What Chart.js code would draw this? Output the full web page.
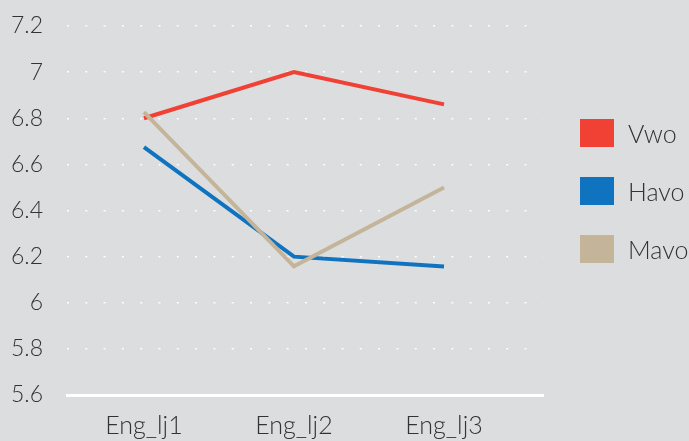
<!DOCTYPE html>
<html>
<head>
<meta charset="utf-8">
<script src="https://cdn.jsdelivr.net/npm/chart.js@4/dist/chart.umd.min.js"></script>
<style>
  html, body { margin: 0; padding: 0; background: #dcdddf; }
  #wrap { position: relative; width: 689px; height: 441px; }
  #legend { position: absolute; left: 580px; top: 119px; font-family: Lato, sans-serif; font-weight: 300; font-size: 25px; color: #333; }
  #legend .item { display: flex; align-items: center; height: 28px; margin-bottom: 30px; white-space: nowrap; }
  #legend .box { width: 34px; height: 28px; margin-right: 14px; flex: none; }
</style>
</head>
<body>
<div id="wrap">
  <canvas id="c" width="689" height="441"></canvas>
  <div id="legend"></div>
</div>
<script>
const categories = ['Eng_lj1', 'Eng_lj2', 'Eng_lj3'];
const seriesNames = ['Vwo', 'Havo', 'Mavo'];
const vwo = [6.80, 7.00, 6.86];
const havo = [6.675, 6.20, 6.157];
const mavo = [6.827, 6.158, 6.50];
const colors = ['#f04134', '#0f73c0', '#c4b59a'];
const yTicks = [5.6, 5.8, 6, 6.2, 6.4, 6.6, 6.8, 7, 7.2];

const series = [vwo, havo, mavo];
const yFont = { family: 'Lato, sans-serif', weight: '300', size: 23 };
const xFont = { family: 'Lato, sans-serif', weight: '300', size: 25 };

const chart = new Chart(document.getElementById('c'), {
  type: 'line',
  data: {
    datasets: series.map((vals, i) => ({
      label: seriesNames[i],
      data: vals.map((v, j) => ({ x: j + 1, y: v })),
      borderColor: colors[i],
      backgroundColor: colors[i],
      borderWidth: 4,
      pointRadius: 0,
      tension: 0,
      order: 3 - i
    }))
  },
  options: {
    responsive: false,
    animation: false,
    layout: { padding: { top: 26, right: 146, left: 0, bottom: 0 } },
    plugins: { legend: { display: false }, tooltip: { enabled: false } },
    scales: {
      x: {
        type: 'linear',
        min: 0.487,
        max: 3.66,
        afterBuildTicks: (s) => { s.ticks = categories.map((_, i) => ({ value: i + 1 })); },
        ticks: {
          color: '#333',
          font: xFont,
          padding: 8,
          callback: (v) => categories[Math.round(v) - 1]
        },
        grid: { display: false },
        border: { display: true, color: '#ffffff', width: 3 },
        afterFit: (s) => { s.height = 46; s.paddingLeft = 0; s.paddingRight = 0; }
      },
      y: {
        min: 5.6,
        max: 7.2,
        afterBuildTicks: (s) => { s.ticks = yTicks.map(v => ({ value: v })); },
        ticks: { color: '#333', font: yFont, padding: 24, callback: (v) => String(Math.round(v * 10) / 10) },
        grid: {
          color: (ctx) => ctx.tick && ctx.tick.value === 5.6 ? 'rgba(0,0,0,0)' : 'rgba(255,255,255,0.95)',
          lineWidth: 1.5,
          drawTicks: false
        },
        border: { display: false, dash: [2, 16.3] },
        afterFit: (s) => { s.width = 67; s.paddingTop = 0; s.paddingBottom = 0; }
      }
    }
  }
});

// legend built from the datasets
const legend = document.getElementById('legend');
chart.data.datasets.forEach(ds => {
  const item = document.createElement('div');
  item.className = 'item';
  item.innerHTML = `<div class="box" style="background:${ds.backgroundColor}"></div><span>${ds.label}</span>`;
  legend.appendChild(item);
});
</script>
</body>
</html>
